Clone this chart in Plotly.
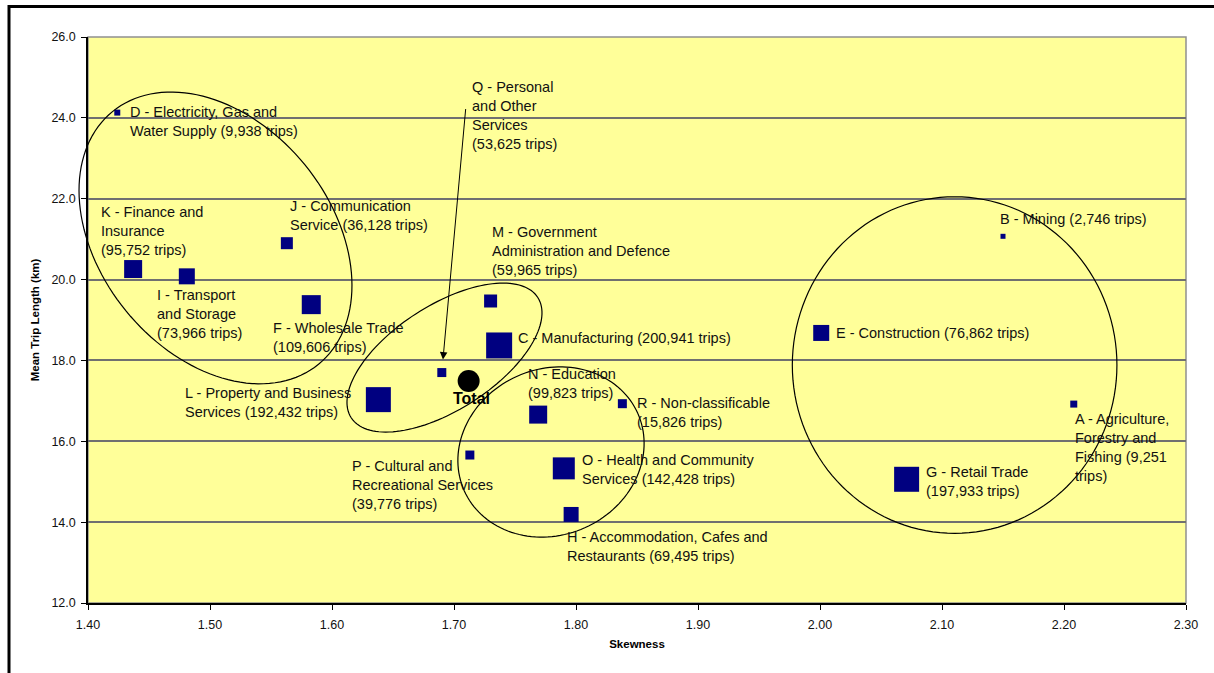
import math
import plotly.graph_objects as go

# ---------------- data ----------------
codes = ["A", "B", "C", "D", "E", "F", "G", "H", "I",
         "J", "K", "L", "M", "N", "O", "P", "Q", "R"]
industries = [
    "Agriculture, Forestry and Fishing", "Mining", "Manufacturing",
    "Electricity, Gas and Water Supply", "Construction", "Wholesale Trade",
    "Retail Trade", "Accommodation, Cafes and Restaurants",
    "Transport and Storage", "Communication Service", "Finance and Insurance",
    "Property and Business Services", "Government Administration and Defence",
    "Education", "Health and Community Services",
    "Cultural and Recreational Services", "Personal and Other Services",
    "Non-classificable",
]
trips = [9251, 2746, 200941, 9938, 76862, 109606, 197933, 69495, 73966,
         36128, 95752, 192432, 59965, 99823, 142428, 39776, 53625, 15826]
skewness = [2.208, 2.150, 1.737, 1.424, 2.001, 1.583, 2.071, 1.796, 1.481,
            1.563, 1.437, 1.638, 1.730, 1.769, 1.790, 1.713, 1.690, 1.838]
mean_trip_km = [16.92, 21.07, 18.37, 24.13, 18.68, 19.38, 15.06, 14.19, 20.08,
                20.90, 20.26, 17.03, 19.47, 16.66, 15.33, 15.66, 17.70, 16.93]
total_skewness = 1.712
total_mean_km = 17.49

x_ticks = [1.40, 1.50, 1.60, 1.70, 1.80, 1.90, 2.00, 2.10, 2.20, 2.30]
y_ticks = [12.0, 14.0, 16.0, 18.0, 20.0, 22.0, 24.0, 26.0]

# label wording (line breaks as in the picture); {t} = trips
label_templates = {
    "A": "A - Agriculture,<br>Forestry and<br>Fishing ({t}<br>trips)",
    "B": "B - Mining ({t} trips)",
    "C": "C - Manufacturing ({t} trips)",
    "D": "D - Electricity, Gas and<br>Water Supply ({t} trips)",
    "E": "E - Construction ({t} trips)",
    "F": "F - Wholesale Trade<br>({t} trips)",
    "G": "G - Retail Trade<br>({t} trips)",
    "H": "H - Accommodation, Cafes and<br>Restaurants ({t} trips)",
    "I": "I - Transport<br>and Storage<br>({t} trips)",
    "J": "J - Communication<br>Service ({t} trips)",
    "K": "K - Finance and<br>Insurance<br>({t} trips)",
    "L": "L - Property and Business<br>Services ({t} trips)",
    "M": "M - Government<br>Administration and Defence<br>({t} trips)",
    "N": "N - Education<br>({t} trips)",
    "O": "O - Health and Community<br>Services ({t} trips)",
    "P": "P - Cultural and<br>Recreational Services<br>({t} trips)",
    "Q": "Q - Personal<br>and Other<br>Services<br>({t} trips)",
    "R": "R - Non-classificable<br>({t} trips)",
}

# ---------------- styling ----------------
W, H = 1214, 673
ML, MR, MT, MB = 88, 28, 37, 70
X_RANGE = [1.40, 2.30]
Y_RANGE = [12.0, 26.0]
PLOT_W = W - ML - MR
PLOT_H = H - MT - MB
PX_X = PLOT_W / (X_RANGE[1] - X_RANGE[0])
PX_Y = PLOT_H / (Y_RANGE[1] - Y_RANGE[0])

FONT = "Liberation Sans, Arial, sans-serif"
NAVY = "#000080"
BG = "#FFFF99"

marker_px = {"A": 7, "B": 5, "C": 26, "D": 6, "E": 16, "F": 19, "G": 25,
             "H": 15, "I": 16, "J": 12, "K": 18, "L": 25, "M": 13, "N": 18,
             "O": 22, "P": 9, "Q": 9, "R": 9}
# label offsets in pixels from marker centre: (left edge dx, centre dy downward)
label_offset = {
    "A": (0, 43), "B": (-4, -17), "C": (18, -7), "D": (12, 9),
    "E": (14, 0), "F": (-39, 33), "G": (18, 2), "H": (-5, 32),
    "I": (-31, 38), "J": (2, -28), "K": (-33, -38), "L": (-194, 3),
    "M": (0, -50), "N": (-11, -31), "O": (17, 1), "P": (-119, 30),
    "Q": (29, -257), "R": (14, 9),
}

fig = go.Figure()

fig.add_trace(go.Scatter(
    x=skewness, y=mean_trip_km, mode="markers",
    marker=dict(symbol="square", color=NAVY, opacity=1,
                size=[marker_px[c] for c in codes], line=dict(width=0)),
    text=industries, hoverinfo="text+x+y", showlegend=False,
))
fig.add_trace(go.Scatter(
    x=[total_skewness], y=[total_mean_km], mode="markers",
    marker=dict(symbol="circle", color="black", size=22, opacity=1,
                line=dict(width=0)),
    showlegend=False,
))

annotations = []
for c, xv, yv, t in zip(codes, skewness, mean_trip_km, trips):
    dx, dy = label_offset[c]
    annotations.append(dict(
        x=xv, y=yv, xref="x", yref="y", showarrow=False,
        text=label_templates[c].format(t=f"{t:,}"),
        xanchor="left", yanchor="middle", align="left",
        xshift=dx, yshift=-dy, borderpad=0,
        font=dict(family=FONT, size=14.5, color="#111111"),
    ))
annotations.append(dict(
    x=total_skewness, y=total_mean_km, xref="x", yref="y", showarrow=False,
    text="<b>Total</b>", xanchor="center", yanchor="middle",
    xshift=3, yshift=-17, font=dict(family=FONT, size=16, color="black"),
))
# arrow from the Q label down to the Q marker
qi = codes.index("Q")
annotations.append(dict(
    x=skewness[qi], y=mean_trip_km[qi], xref="x", yref="y",
    showarrow=True, text="", arrowhead=2, arrowsize=1.5, arrowwidth=1,
    arrowcolor="black", ax=24, ay=-265, standoff=13,
))

# ---------------- ellipses (grouping outlines) ----------------
# drawn in paper coordinates so they are not clipped at the axes
def to_paper(xv, yv):
    return ((xv - X_RANGE[0]) / (X_RANGE[1] - X_RANGE[0]),
            (yv - Y_RANGE[0]) / (Y_RANGE[1] - Y_RANGE[0]))

def ellipse_path(cx, cy, a_px, b_px, ang_deg, n=140):
    th = math.radians(ang_deg)
    pts = []
    for i in range(n):
        t = 2 * math.pi * i / n
        px = a_px * math.cos(th) * math.cos(t) - b_px * math.sin(th) * math.sin(t)
        py = a_px * math.sin(th) * math.cos(t) + b_px * math.cos(th) * math.sin(t)
        pts.append(to_paper(cx + px / PX_X, cy - py / PX_Y))
    return "M " + " L ".join(f"{x:.5f},{y:.5f}" for x, y in pts) + " Z"

# (centre x, centre y, semi-axis a px, semi-axis b px, rotation deg)
ellipses = [
    (1.5045, 21.03, 163, 115.5, 50.8),
    (1.6922, 18.07, 111, 52.3, -32.8),
    (1.7795, 15.735, 95, 83, -24),
    (2.11035, 17.885, 162.3, 168.3, 0),
]
shapes = []
for cx, cy, a, b, ang in ellipses:
    shapes.append(dict(type="path", xref="paper", yref="paper",
                       path=ellipse_path(cx, cy, a, b, ang),
                       line=dict(color="black", width=1.2)))
# plot-area border (top/right grey)
shapes.append(dict(type="rect", xref="paper", yref="paper",
                   x0=0, x1=1, y0=0, y1=1, layer="below",
                   line=dict(color="#909090", width=1.5)))
# outer chart frame (partly cropped in the picture)
fx0 = (9 - ML) / PLOT_W
fy1 = (H - MB - 6.5) / PLOT_H
shapes.append(dict(type="rect", xref="paper", yref="paper",
                   x0=fx0, x1=1.3, y0=-0.3, y1=fy1,
                   line=dict(color="black", width=3)))

fig.update_layout(
    width=W, height=H, autosize=False,
    margin=dict(l=ML, r=MR, t=MT, b=MB, pad=0),
    paper_bgcolor="white", plot_bgcolor=BG,
    font=dict(family=FONT, color="black"),
    shapes=shapes, annotations=annotations,
    hovermode="closest",
)
fig.update_xaxes(
    range=X_RANGE, tickvals=x_ticks, ticktext=[f"{v:.2f}" for v in x_ticks],
    ticks="outside", ticklen=5, tickcolor="black", tickwidth=1,
    showline=True, linecolor="black", linewidth=1.5,
    showgrid=False, zeroline=False,
    tickfont=dict(family=FONT, size=12.5, color="#111111"),
    ticklabelstandoff=4,
    title=dict(text="<b>Skewness</b>", standoff=9,
               font=dict(family=FONT, size=11.5, color="black")),
)
fig.update_yaxes(
    range=Y_RANGE, tickvals=y_ticks, ticktext=[f"{v:.1f}" for v in y_ticks],
    ticks="outside", ticklen=5, tickcolor="black", tickwidth=1,
    showline=True, linecolor="black", linewidth=1.5,
    showgrid=True, gridcolor="#707070", gridwidth=1.5, zeroline=False,
    tickfont=dict(family=FONT, size=12.5, color="#111111"),
    ticklabelstandoff=3,
    title=dict(text="<b>Mean Trip Length (km)</b>", standoff=9,
               font=dict(family=FONT, size=11.5, color="black")),
)

fig.write_html("out.html", config={"displayModeBar": False},
               post_script="document.body.style.margin='0px';")
